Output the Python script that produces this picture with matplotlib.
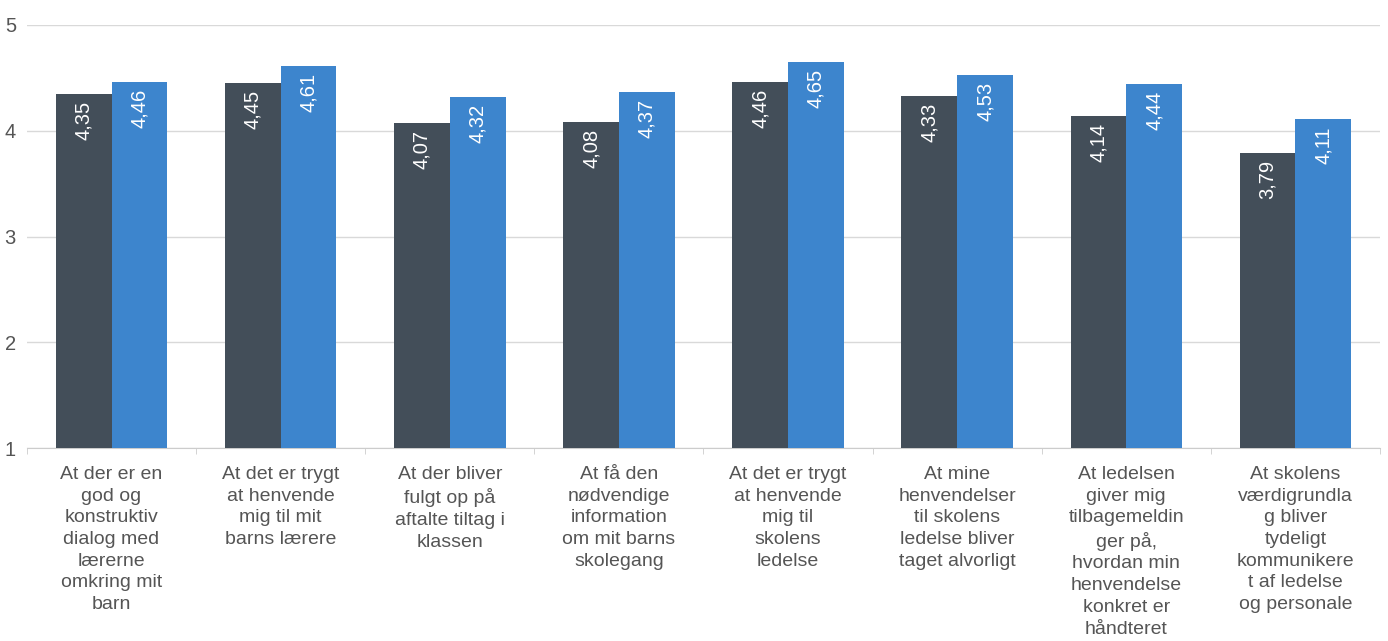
import numpy as np
import matplotlib.pyplot as plt

# Data
categories = [
    "At der er en\ngod og\nkonstruktiv\ndialog med\nlærerne\nomkring mit\nbarn",
    "At det er trygt\nat henvende\nmig til mit\nbarns lærere",
    "At der bliver\nfulgt op på\naftalte tiltag i\nklassen",
    "At få den\nnødvendige\ninformation\nom mit barns\nskolegang",
    "At det er trygt\nat henvende\nmig til\nskolens\nledelse",
    "At mine\nhenvendelser\ntil skolens\nledelse bliver\ntaget alvorligt",
    "At ledelsen\ngiver mig\ntilbagemeldin\nger på,\nhvordan min\nhenvendelse\nkonkret er\nhåndteret",
    "At skolens\nværdigrundla\ng bliver\ntydeligt\nkommunikere\nt af ledelse\nog personale",
]
serie_1 = [4.35, 4.45, 4.07, 4.08, 4.46, 4.33, 4.14, 3.79]
serie_2 = [4.46, 4.61, 4.32, 4.37, 4.65, 4.53, 4.44, 4.11]

plt.rcParams['font.family'] = ['Liberation Sans', 'DejaVu Sans']

fig = plt.figure(figsize=(13.88, 6.41), dpi=100)
ax = fig.add_axes([27 / 1388, (641 - 448) / 641, (1380 - 27) / 1388, (448 - 25) / 641])

x = np.arange(len(categories))
w = 0.33
b1 = ax.bar(x - w / 2, serie_1, w, bottom=0, color='#434e59', zorder=3)
b2 = ax.bar(x + w / 2, serie_2, w, bottom=0, color='#3d85cd', zorder=3)

for bars, vals in [(b1, serie_1), (b2, serie_2)]:
    for r, v in zip(bars, vals):
        ax.annotate(f"{v:.2f}".replace('.', ','), (r.get_x() + r.get_width() / 2, v),
                    xytext=(0, -5), textcoords='offset points', rotation=90,
                    ha='center', va='top', color='white', fontsize=14.5, zorder=4)

ax.set_ylim(1, 5)
ax.set_xlim(-0.5, len(categories) - 0.5)
ax.set_yticks([1, 2, 3, 4, 5])
ax.yaxis.grid(True, color='#d9d9d9', linewidth=1, zorder=0)
ax.tick_params(axis='y', length=0, labelsize=14.5, labelcolor='#555555', pad=8)

ax.set_xticks(x)
ax.set_xticklabels(categories, fontsize=14, color='#555555', linespacing=1.36)
ax.tick_params(axis='x', length=0, pad=13)
ax.set_xticks(np.arange(len(categories) + 1) - 0.5, minor=True)
ax.tick_params(axis='x', which='minor', length=4, color='#cccccc')

for s in ['top', 'right', 'left']:
    ax.spines[s].set_visible(False)
ax.spines['bottom'].set_color('#cccccc')

fig.savefig('out.png', dpi=100)
